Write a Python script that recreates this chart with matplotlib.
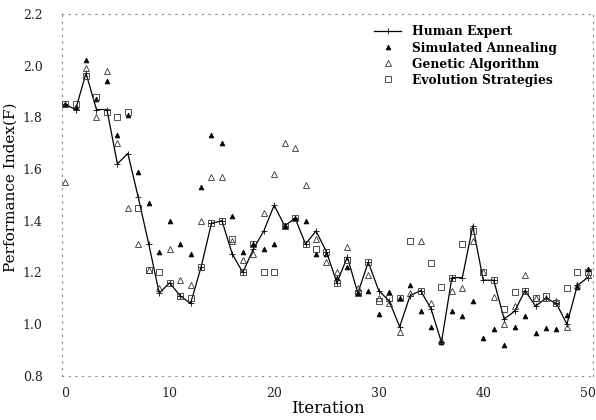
import matplotlib
matplotlib.use("Agg")
import matplotlib.pyplot as plt
from matplotlib.ticker import FormatStrFormatter

plt.rcParams['font.family'] = ['DejaVu Serif', 'Liberation Serif']

iterations = list(range(51))

human_expert = [1.85, 1.83, 1.97, 1.83, 1.83, 1.62, 1.66, 1.49, 1.31, 1.12,
                1.16, 1.11, 1.08, 1.22, 1.39, 1.40, 1.27, 1.20, 1.29, 1.36,
                1.46, 1.38, 1.41, 1.31, 1.36, 1.28, 1.16, 1.26, 1.12, 1.24,
                1.13, 1.09, 0.99, 1.11, 1.13, 1.06, 0.93, 1.18, 1.18, 1.38,
                1.17, 1.17, 1.02, 1.05, 1.13, 1.07, 1.10, 1.08, 1.00, 1.15, 1.18]

simulated_annealing = [1.85, 1.84, 2.02, 1.87, 1.94, 1.73, 1.81, 1.59, 1.47, 1.28,
                       1.40, 1.31, 1.27, 1.53, 1.73, 1.70, 1.42, 1.28, 1.31, 1.29,
                       1.31, 1.38, 1.41, 1.40, 1.27, 1.27, 1.18, 1.22, 1.12, 1.13,
                       1.04, 1.125, 1.10, 1.15, 1.05, 0.99, 0.93, 1.05, 1.03, 1.09,
                       0.945, 0.98, 0.92, 0.99, 1.03, 0.965, 0.985, 0.98, 1.035, 1.145, 1.215]

genetic_algorithm = [1.55, 1.84, 1.99, 1.80, 1.98, 1.70, 1.45, 1.31, 1.21, 1.14,
                     1.29, 1.17, 1.15, 1.40, 1.57, 1.57, 1.32, 1.25, 1.27, 1.43,
                     1.58, 1.70, 1.68, 1.54, 1.33, 1.24, 1.20, 1.30, 1.14, 1.19,
                     1.10, 1.08, 0.97, 1.12, 1.32, 1.08, 0.94, 1.13, 1.14, 1.32,
                     1.20, 1.105, 1.00, 1.07, 1.19, 1.10, 1.10, 1.09, 0.99, 1.15, 1.19]

evolution_strategies = [1.85, 1.85, 1.96, 1.88, 1.82, 1.80, 1.82, 1.45, 1.21, 1.20,
                        1.16, 1.11, 1.10, 1.22, 1.39, 1.40, 1.33, 1.20, 1.31, 1.20,
                        1.20, 1.38, 1.41, 1.31, 1.29, 1.28, 1.16, 1.25, 1.12, 1.24,
                        1.09, 1.10, 1.10, 1.32, 1.13, 1.235, 1.145, 1.18, 1.31, 1.36,
                        1.20, 1.17, 1.06, 1.125, 1.13, 1.10, 1.11, 1.08, 1.14, 1.20, 1.20]

x_ticks = [0, 10, 20, 30, 40, 50]
y_ticks = [0.8, 1.0, 1.2, 1.4, 1.6, 1.8, 2.0, 2.2]

fig = plt.figure(figsize=(5.96, 4.20), dpi=100)
ax = fig.add_axes([0.104, 0.105, 0.891, 0.862])

ax.plot(iterations, human_expert, color='black', lw=0.9, marker='+', ms=4,
        mew=0.6, label='Human Expert', zorder=4)
ax.plot(iterations, simulated_annealing, ls='none', marker='^', ms=3.4,
        mfc='black', mec='black', mew=0.6, label='Simulated Annealing', zorder=5)
ax.plot(iterations, genetic_algorithm, ls='none', marker='^', ms=3.8,
        mfc='none', mec='#333333', mew=0.6, label='Genetic Algorithm', zorder=5)
ax.plot(iterations, evolution_strategies, ls='none', marker='s', ms=4.2,
        mfc='none', mec='#333333', mew=0.6, label='Evolution Strategies', zorder=5)

ax.set_xlim(-0.3, 50.5)
ax.set_ylim(0.8, 2.2)
ax.set_xticks(x_ticks)
ax.set_yticks(y_ticks)
ax.yaxis.set_major_formatter(FormatStrFormatter('%.1f'))
ax.tick_params(axis='both', length=0, labelsize=9, colors='#222222')
ax.tick_params(axis='y', pad=14)
ax.tick_params(axis='x', pad=8)

for side in ['left', 'bottom', 'right', 'top']:
    ax.spines[side].set_linestyle((0, (1, 5)))
    ax.spines[side].set_color('#888888')
    ax.spines[side].set_linewidth(0.8)

ax.set_xlabel('Iteration', fontsize=12, labelpad=0)
ax.set_ylabel('Performance Index(F)', fontsize=11)
ax.yaxis.set_label_coords(-0.084, 0.52)

leg = ax.legend(loc='upper left', bbox_to_anchor=(0.57, 0.995), frameon=False,
                fontsize=8.8, handlelength=2.2, labelspacing=0.25,
                borderpad=0.3, handletextpad=0.9)
for t in leg.get_texts():
    t.set_fontweight('bold')

fig.savefig('out.png', dpi=100)
